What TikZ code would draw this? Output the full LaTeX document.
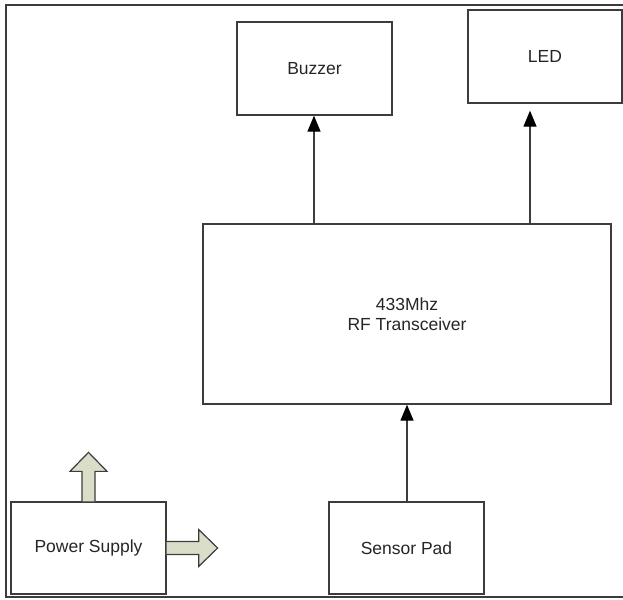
\documentclass[tikz,border=0pt]{standalone}
\usepackage{fontspec}
\setmainfont{Liberation Sans}
\usetikzlibrary{arrows.meta,shadows}
\definecolor{linegray}{RGB}{60,60,60}
\definecolor{fatfill}{RGB}{218,222,200}
\begin{document}
\begin{tikzpicture}[x=1pt,y=-1pt,
  blockbox/.style={draw=linegray, line width=1.3pt, fill=white, align=center,
    font=\fontsize{17.5}{20.5}\selectfont, inner sep=0pt, text=black!85,
    drop shadow={shadow xshift=1.2pt, shadow yshift=-1.2pt, fill=black!35, opacity=1}},
  conn/.style={draw=linegray, line width=1.3pt, -{Triangle[length=16pt,width=13pt,fill=black,color=black]}},
  fatarrow/.style={draw=linegray, line width=1.2pt, fill=fatfill, line join=miter}]
\useasboundingbox (0,0) rectangle (623,599);
% outer frame
\draw[linegray, line width=1.5pt] (623,5) -- (6,5) -- (6,597) -- (623,597);
% blocks
\node[blockbox, minimum width=155pt, minimum height=93pt] (buzzer) at (314.5,68.5) {Buzzer};
\node[blockbox, minimum width=154pt, minimum height=93pt] (led) at (545,56.5) {LED};
\node[blockbox, minimum width=408pt, minimum height=180pt] (rf) at (407,314) {433Mhz\\RF Transceiver};
\node[blockbox, minimum width=155pt, minimum height=92pt] (sensor) at (406.5,548) {Sensor Pad};
\node[blockbox, minimum width=155pt, minimum height=92pt] (ps) at (88.5,548) {Power Supply};
% connectors
\coordinate (bx) at (314,0);
\coordinate (lx) at (530,0);
\coordinate (sx) at (407,0);
\draw[conn] (rf.north -| bx) -- (buzzer.south -| bx);
\draw[conn, shorten >=7pt] (rf.north -| lx) -- (led.south -| lx);
\draw[conn] (sensor.north -| sx) -- (rf.south -| sx);
% fat arrows from power supply
\draw[fatarrow] (ps.north) ++(-6.5,0) -- ++(0,-30) -- ++(-12,0) -- ++(18.5,-19) -- ++(18.5,19) -- ++(-12,0) -- ++(0,30);
\draw[fatarrow] (ps.east) ++(0,-6.5) -- ++(32,0) -- ++(0,-12) -- ++(19,18.5) -- ++(-19,18.5) -- ++(0,-12) -- ++(-32,0);
\end{tikzpicture}
\end{document}
